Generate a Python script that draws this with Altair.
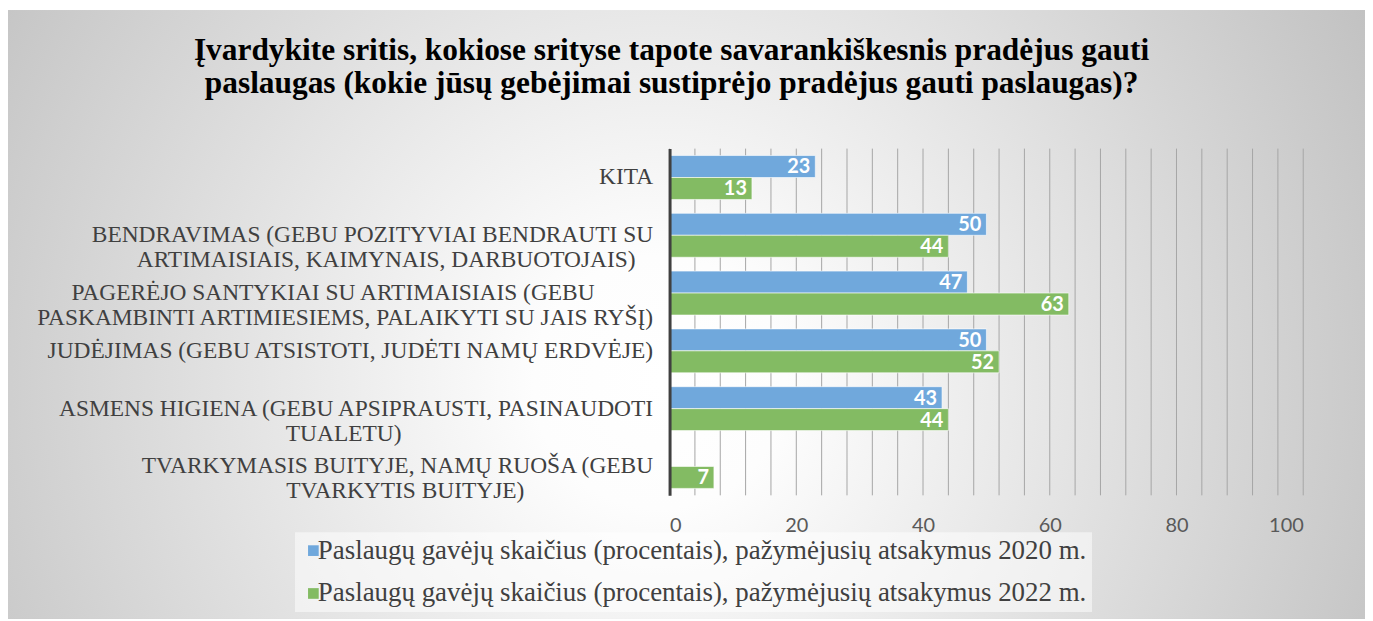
import altair as alt
import pandas as pd

categories = [
    "KITA",
    "BENDRAVIMAS (GEBU POZITYVIAI BENDRAUTI SU\nARTIMAISIAIS, KAIMYNAIS, DARBUOTOJAIS)",
    "PAGERĖJO SANTYKIAI SU ARTIMAISIAIS (GEBU\nPASKAMBINTI ARTIMIESIEMS, PALAIKYTI SU JAIS RYŠĮ)",
    "JUDĖJIMAS (GEBU ATSISTOTI, JUDĖTI NAMŲ ERDVĖJE)",
    "ASMENS HIGIENA (GEBU APSIPRAUSTI, PASINAUDOTI\nTUALETU)",
    "TVARKYMASIS BUITYJE, NAMŲ RUOŠA (GEBU\nTVARKYTIS BUITYJE)",
]
values_2020 = [23, 50, 47, 50, 43, 0]
values_2022 = [13, 44, 63, 52, 44, 7]
series = [
    "Paslaugų gavėjų skaičius (procentais), pažymėjusių atsakymus 2020 m.",
    "Paslaugų gavėjų skaičius (procentais), pažymėjusių atsakymus 2022 m.",
]
colors = ["#70A8DC", "#83BB63"]
title_lines = [
    "Įvardykite sritis, kokiose srityse tapote savarankiškesnis pradėjus gauti",
    "paslaugas (kokie jūsų gebėjimai sustiprėjo pradėjus gauti paslaugas)?",
]
grid_values = list(range(0, 101, 4))
tick_values = list(range(0, 101, 20))

rows = []
for c, a, b in zip(categories, values_2020, values_2022):
    rows.append({"category": c, "series": series[0], "value": a})
    rows.append({"category": c, "series": series[1], "value": b})
df = pd.DataFrame(rows)
grid_df = pd.DataFrame({"value": grid_values})

W, H = 636, 348
PL, PT, PR, PB = 664, 140, 62, 124
SERIF = "Liberation Serif"

# centre the wrapped lines of each label: pad the shorter line with
# no-break spaces, closed by a word joiner so that they are not trimmed
NB = "\u00a0"
WJ = "\u2060"
L1 = "split(datum.label, '\\n')[0]"
L2 = "split(datum.label, '\\n')[1]"
n1 = f"length({L1})"
n2 = f"length({L2})"
m = f"max({n1}, {n2})"
p1 = f"{L1} + pad('', round(({m} - {n1}) * 1.15), '{NB}') + '{WJ}'"
p2 = f"{L2} + pad('', round(({m} - {n2}) * 1.15), '{NB}') + '{WJ}'"
label_expr = f"length(split(datum.label, '\\n')) < 2 ? datum.label : [{p1}, {p2}]"

bg = alt.Chart(alt.Data(values=[{}])).mark_rect(
    fill={
        "gradient": "radial",
        "x1": 0.48, "y1": 0.55, "r1": 0,
        "x2": 0.48, "y2": 0.55, "r2": 0.62,
        "stops": [
            {"offset": 0, "color": "#ffffff"},
            {"offset": 0.15, "color": "#fdfdfd"},
            {"offset": 1, "color": "#bebebe"},
        ],
    }
).encode(
    x=alt.value(-PL), x2=alt.value(W + PR),
    y=alt.value(-PT + 1), y2=alt.value(H + PB),
)

x_axis = alt.Axis(
    title=None,
    values=tick_values,
    labelFont="Lato",
    labelFontSize=20,
    labelColor="#595959",
    labelPadding=20,
    ticks=False,
    domain=False,
    grid=False,
    zindex=2,
)
y_axis = alt.Axis(
    title=None,
    labelExpr=label_expr,
    labelFont=SERIF,
    labelFontSize=23.5,
    labelColor="#404040",
    labelLineHeight=25,
    labelPadding=17,
    labelLimit=2000,
    labelOverlap=False,
    ticks=False,
    domain=True,
    domainColor="#404040",
    domainWidth=3,
    grid=False,
    zindex=2,
)
x_scale = alt.Scale(domain=[0, 100], nice=False)
y_scale = alt.Scale(paddingInner=0.24, paddingOuter=0.12)

grid = alt.Chart(grid_df).mark_rule(color="#a6a6a6", strokeWidth=1).encode(
    x=alt.X("value:Q", scale=x_scale, axis=x_axis),
    y=alt.value(0),
    y2=alt.value(H),
)

bars = alt.Chart(df).mark_bar(stroke="#ffffff", strokeWidth=1, strokeOpacity=0.6).encode(
    y=alt.Y("category:N", sort=categories, scale=y_scale, axis=y_axis),
    x=alt.X("value:Q", scale=x_scale, axis=x_axis),
    yOffset=alt.YOffset("series:N", sort=series),
    color=alt.Color(
        "series:N",
        sort=series,
        scale=alt.Scale(domain=series, range=colors),
        legend=alt.Legend(
            title=None,
            orient="none",
            legendX=-376,
            legendY=385,
            direction="vertical",
            symbolType="square",
            symbolSize=115,
            symbolStrokeWidth=0,
            labelFont=SERIF,
            labelFontSize=27,
            labelColor="#404040",
            labelLimit=2000,
            labelOffset={"expr": "-9"},
            rowPadding=15,
            padding=5,
            fillColor="rgba(255,255,255,0.5)",
            zindex=2,
        ),
    ),
)

labels = alt.Chart(df).transform_filter("datum.value > 0").mark_text(
    align="right", baseline="middle", dx=-5, dy=1,
    font="Lato", fontWeight="bold", fontSize=20, color="white",
).encode(
    y=alt.Y("category:N", sort=categories, scale=y_scale, axis=y_axis),
    x=alt.X("value:Q", scale=x_scale, axis=x_axis),
    yOffset=alt.YOffset("series:N", sort=series),
    text=alt.Text("value:Q"),
)

chart = alt.layer(bg, grid, bars, labels).properties(
    width=W,
    height=H,
    padding={"left": PL, "top": PT, "right": PR, "bottom": PB},
    autosize=alt.AutoSizeParams(type="none"),
    title=alt.TitleParams(
        text=title_lines,
        font=SERIF,
        fontSize=31.5,
        fontWeight="bold",
        color="#000000",
        anchor="middle",
        dx=-316,
        offset=-90,
        lineHeight=33,
        zindex=2,
    ),
).configure(background="white").configure_view(stroke=None)

chart.save("out.html", embed_options={"renderer": "svg", "actions": False})
